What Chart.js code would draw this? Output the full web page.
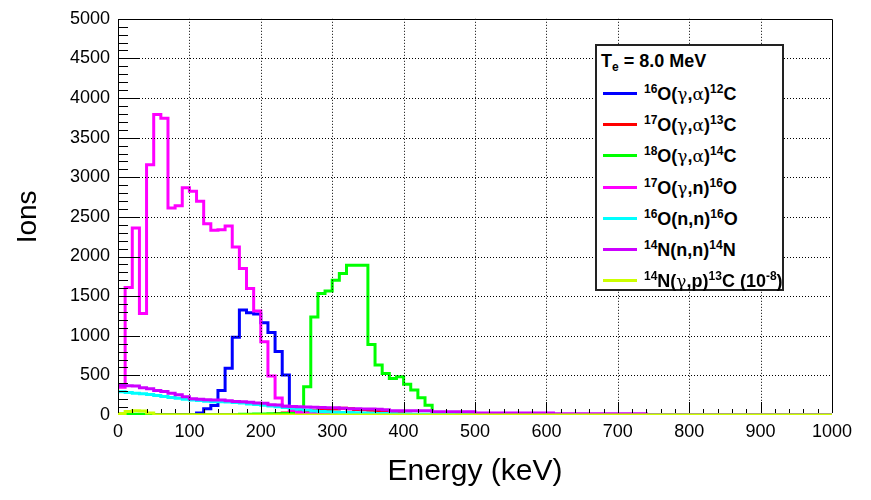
<!DOCTYPE html>
<html>
<head>
<meta charset="utf-8">
<script src="https://cdn.jsdelivr.net/npm/chart.js@4.4.0/dist/chart.umd.min.js"></script>
<style>
  body { margin: 0; background: #fff; }
  #wrap { position: relative; width: 871px; height: 500px; }
  #legend {
    position: absolute; left: 595px; top: 44px; width: 189px; height: 247px;
    box-sizing: border-box; border: 2px solid #222; background: #fff;
    font-family: 'Liberation Sans', Arial, sans-serif; font-weight: bold; font-size: 18px; color: #000;
  }
  #legend .ttl { position: absolute; left: 4px; top: 4px; line-height: 22px; }
  #legend .row { position: absolute; left: 0; height: 24px; width: 100%; }
  #legend .ln { position: absolute; left: 6px; top: 10px; width: 34px; height: 3px; }
  #legend .tx { position: absolute; left: 47px; top: 0; line-height: 24px; white-space: nowrap; }
  #legend sup { font-size: 12px; vertical-align: 7px; line-height: 0; }
  #legend sub { font-size: 12px; vertical-align: -4px; line-height: 0; }
  #legend .gr { font-family: 'DejaVu Serif', 'Liberation Serif', serif; font-weight: normal; font-size: 17px; }
</style>
</head>
<body>
<div id="wrap">
  <canvas id="myChart" width="871" height="500"></canvas>
  <div id="legend"></div>
</div>
<script>
// histogram bins are 10 keV wide, first bin starts at 0 keV
const binWidth = 10;
const energyMax = 1000;
const ionsMax = 5000;

const seriesNames = [
  '<sup>16</sup>O(<span class="gr">γ</span>,<span class="gr">α</span>)<sup>12</sup>C',
  '<sup>17</sup>O(<span class="gr">γ</span>,<span class="gr">α</span>)<sup>13</sup>C',
  '<sup>18</sup>O(<span class="gr">γ</span>,<span class="gr">α</span>)<sup>14</sup>C',
  '<sup>17</sup>O(<span class="gr">γ</span>,n)<sup>16</sup>O',
  '<sup>16</sup>O(n,n)<sup>16</sup>O',
  '<sup>14</sup>N(n,n)<sup>14</sup>N',
  '<sup>14</sup>N(<span class="gr">γ</span>,p)<sup>13</sup>C (10<sup>-8</sup>)'
];
const seriesColors = ['#0000ff', '#ff0000', '#00ff00', '#ff00ff', '#00ffff', '#cc00ff', '#ccff00'];

const o16ga = [0,0,0,0,0,0,0,0,0,0, 0,25,80,120,310,590,980,1325,1290,1275,
  1165,1040,800,505,100,60,45,35,30,25, 20,15,10,8,5];
const o17ga = [0,0,0,0,0,0,0,0,0,0, 0,0,0,0,0,0,0,0,0,0,
  0,0,15,25,35,45,50,55,60,70, 75,85,80,70,65,60,55,45,30,20, 10,5];
const o18ga = [5,8,8,8,5,0,0,0,0,0, 0,0,0,0,0,0,0,10,10,12,
  12,15,15,18,20,25,357,1238,1533,1566, 1700,1785,1889,1889,1889,890,630,525,462,482,
  387,315,218,122,15,10,5];
const o17gn = [350,1608,2359,1281,3157,3791,3745,2611,2641,2868, 2825,2699,2414,2330,2338,2384,2120,1848,1596,1314,
  923,491,214,110,60,30,20,15,10,8, 5];
const o16nn = [293,283,275,268,258,245,235,222,210,198, 189,182,175,168,168,165,158,152,140,132,
  122,115,105,95,84,72,62,52,45,40, 35,32,30,28,25,22,20,18,16,14, 12,10,9,8,7,6,5,4,3];
const n14nn = [375,370,365,345,330,310,295,275,255,230, 205,200,192,190,188,180,170,168,160,152,
  147,130,125,110,108,105,100,98,95,92, 90,85,80,78,75,75,72,65,55,55, 55,55,55,55,40,40,40,40,40,40,
  25,25,25,25,25,25,25,25,25,25, 25,15,15,15,15,15,15,15,15,15, 15,15,15,15];
const n14gp = [20,45,55,50,25];

const seriesValues = [o16ga, o17ga, o18ga, o17gn, o16nn, n14nn, n14gp];

// bin contents -> step outline points (left edge of each bin, then back to 0)
function histPoints(values) {
  const pts = values.map((v, i) => ({x: i * binWidth, y: v}));
  pts.push({x: values.length * binWidth, y: 0});
  pts.push({x: energyMax, y: 0});
  return pts;
}

const font = "'Liberation Sans', Arial, sans-serif";

// ROOT-like frame: dotted grid, ticks inside the frame
const rootAxes = {
  id: 'rootAxes',
  afterDraw(chart) {
    const {ctx, chartArea: a} = chart;
    const xs = chart.scales.x, ys = chart.scales.y;
    ctx.save();
    ctx.strokeStyle = '#000';
    ctx.lineWidth = 1;

    ctx.setLineDash([1, 2]);
    ctx.beginPath();
    for (let e = 100; e < energyMax; e += 100) {
      const px = Math.round(xs.getPixelForValue(e)) + 0.5;
      ctx.moveTo(px, a.top);
      ctx.lineTo(px, a.bottom - 13);
    }
    for (let v = 500; v < ionsMax; v += 500) {
      const py = Math.round(ys.getPixelForValue(v)) + 0.5;
      ctx.moveTo(a.left + 21, py);
      ctx.lineTo(a.right, py);
    }
    ctx.stroke();

    ctx.setLineDash([]);
    ctx.beginPath();
    for (let e = 0; e <= energyMax; e += 20) {
      const px = Math.round(xs.getPixelForValue(e)) + 0.5;
      const len = e % 100 === 0 ? 13 : 6;
      ctx.moveTo(px, a.bottom - 2);
      ctx.lineTo(px, a.bottom - len);
    }
    for (let v = 100; v <= ionsMax; v += 100) {
      const py = Math.round(ys.getPixelForValue(v)) + 0.5;
      const len = v % 500 === 0 ? 21 : 10;
      ctx.moveTo(a.left, py);
      ctx.lineTo(a.left + len, py);
    }
    ctx.moveTo(Math.round(a.left) + 0.5, a.bottom - 2);
    ctx.lineTo(Math.round(a.left) + 0.5, Math.round(a.top) + 0.5);
    ctx.lineTo(Math.round(a.right) + 0.5, Math.round(a.top) + 0.5);
    ctx.lineTo(Math.round(a.right) + 0.5, a.bottom - 2);
    ctx.stroke();
    ctx.restore();
  }
};

new Chart(document.getElementById('myChart'), {
  type: 'line',
  data: {
    datasets: seriesValues.map((vals, i) => ({
      label: seriesNames[i],
      data: histPoints(vals),
      borderColor: seriesColors[i],
      borderWidth: 3,
      pointRadius: 0,
      stepped: true,
      fill: false,
      order: seriesValues.length - i
    }))
  },
  options: {
    responsive: false,
    animation: false,
    layout: { padding: { top: 18, right: 39, left: 0, bottom: 0 } },
    plugins: { legend: { display: false }, tooltip: { enabled: false } },
    scales: {
      x: {
        type: 'linear', min: 0, max: energyMax,
        afterFit: s => { s.height = 85; },
        ticks: { stepSize: 100, padding: 6, color: '#000', font: { family: font, size: 18 }, maxRotation: 0,
                 callback: v => String(v) },
        grid: { display: false, drawTicks: false },
        border: { display: false },
        title: { display: true, text: 'Energy (keV)', color: '#000', font: { family: font, size: 30 }, padding: { top: 0, bottom: 10 } }
      },
      y: {
        min: 0, max: ionsMax,
        afterFit: s => { s.width = 118; },
        ticks: { stepSize: 500, padding: 8, color: '#000', font: { family: font, size: 18 },
                 callback: v => String(v) },
        grid: { display: false, drawTicks: false },
        border: { display: false },
        title: { display: true, text: 'Ions', color: '#000', font: { family: font, size: 28 }, padding: { top: 11, bottom: 0 } }
      }
    }
  },
  plugins: [rootAxes]
});

// legend box, same order as the datasets
const legend = document.getElementById('legend');
legend.innerHTML = '<div class="ttl">T<sub>e</sub> = 8.0 MeV</div>' +
  seriesNames.map((name, i) =>
    `<div class="row" style="top:${36 + i * 31.2}px"><span class="ln" style="background:${seriesColors[i]}"></span><span class="tx">${name}</span></div>`
  ).join('');
</script>
</body>
</html>
